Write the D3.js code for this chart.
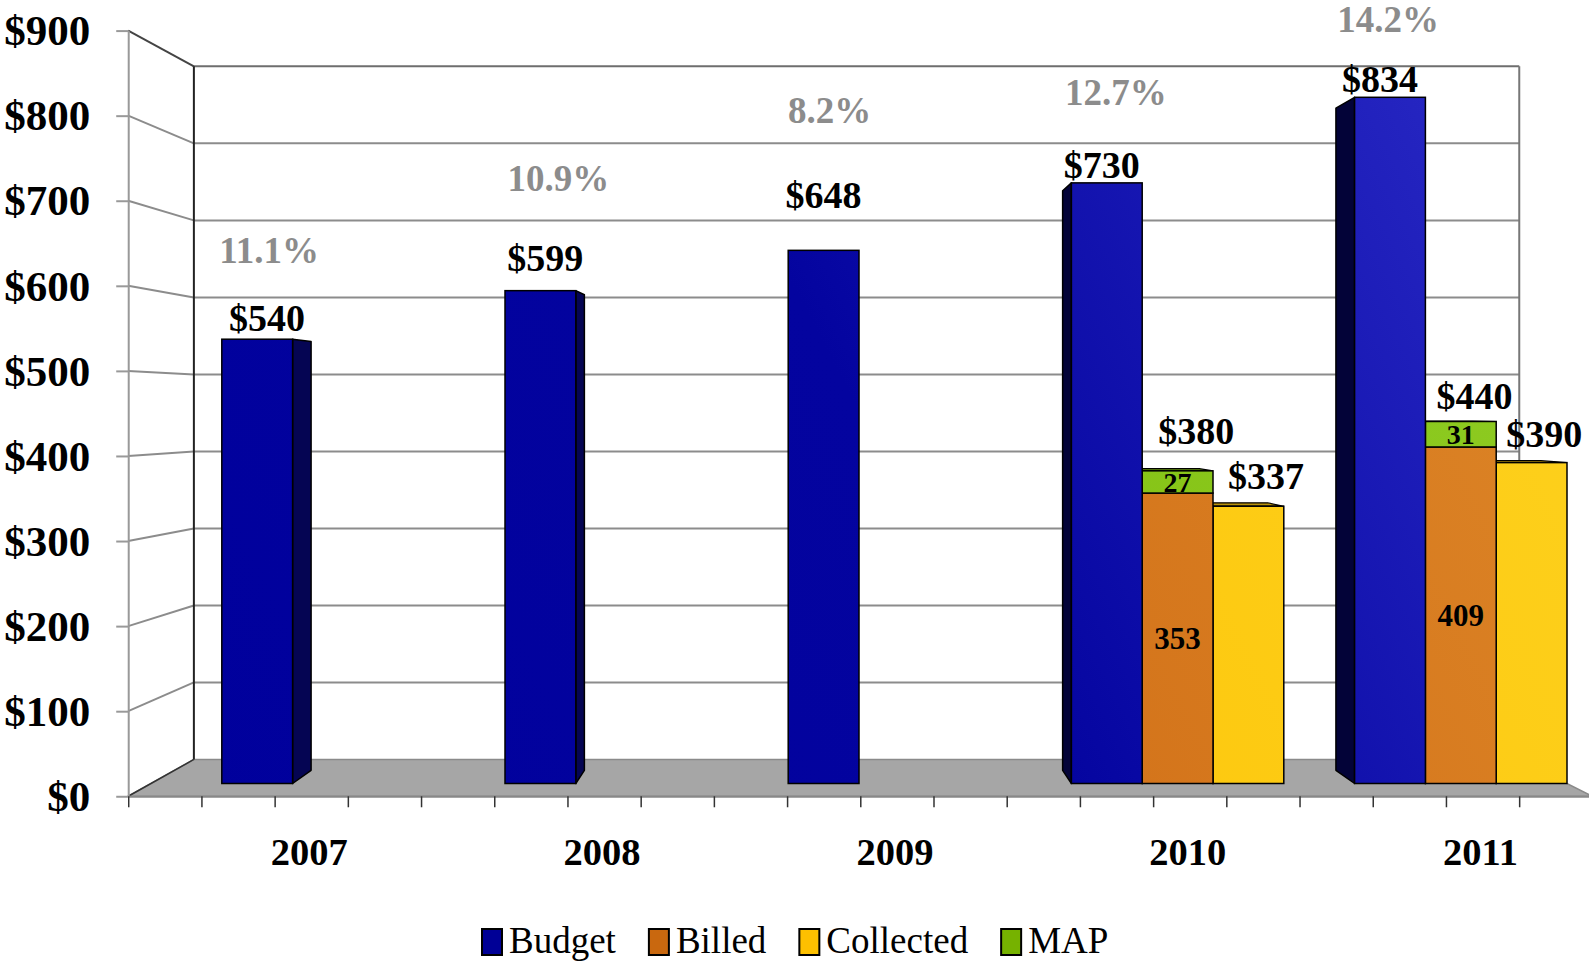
<!DOCTYPE html>
<html>
<head>
<meta charset="utf-8">
<script src="https://cdn.jsdelivr.net/npm/d3@7"></script>
<style>
  body { margin: 0; background: #fff; }
  svg { display: block; font-family: "Liberation Serif", "Times New Roman", serif; }
</style>
</head>
<body>
<svg width="1589" height="961"></svg>
<script>
// data
var years = ["2007", "2008", "2009", "2010", "2011"];
var budget = [540, 599, 648, 730, 834];
var billed = [null, null, null, 353, 409];
var mapValues = [null, null, null, 27, 31];
var collected = [null, null, null, 337, 390];
var growth = ["11.1%", "10.9%", "8.2%", "12.7%", "14.2%"];
var yTicks = [0, 100, 200, 300, 400, 500, 600, 700, 800, 900];
var legendNames = ["Budget", "Billed", "Collected", "MAP"];

var svg = d3.select("svg");

// fake 3d: everything is laid out on the bar front plane, then pushed
// toward / away from a vanishing point
var VX = 821, VY = 408;
var K_FRONT = 1.034, K_BACK = 0.936, K_BAR_BACK = 0.965, K_MID = 0.9825;
function proj(x, y, k) { return [VX + (x - VX) * k, VY + (y - VY) * k]; }

var x0 = d3.scaleBand().domain(years).range([151, 1567]);
var slot = x0.bandwidth() / 4;
var x1 = d3.scaleBand().domain(["Budget", "Billed", "Collected"]).range([slot, x0.bandwidth()]);
var y = d3.scaleLinear().domain([0, 900]).range([783.5, 43]);

var left = x0.range()[0], right = x0.range()[1];

var colors = {Budget: "#0a0aa4", Billed: "#d3731a", Collected: "#fdc80e", MAP: "#84c214"};
var legendColors = {Budget: "#000096", Billed: "#c9680f", Collected: "#fdc000", MAP: "#76b200"};

// lighting: darker lower-left, lighter upper-right
var defs = svg.append("defs");
var grads = {
  Budget: ["#00009c", "#04049f", "#2626c2"],
  Billed: ["#d06e16", "#d3731a", "#dc8426"],
  Collected: ["#fdc60a", "#fdc80e", "#fdd01c"],
  MAP: ["#80c010", "#84c214", "#8ecb22"]
};
Object.keys(grads).forEach(function(k) {
  var g = defs.append("linearGradient").attr("id", "g" + k)
    .attr("gradientUnits", "userSpaceOnUse")
    .attr("x1", left).attr("y1", y(0)).attr("x2", right).attr("y2", y(900));
  g.append("stop").attr("offset", "0%").attr("stop-color", grads[k][0]);
  g.append("stop").attr("offset", "50%").attr("stop-color", grads[k][1]);
  g.append("stop").attr("offset", "92%").attr("stop-color", grads[k][2]);
});

function poly(pts) { return "M" + pts.map(function(p) { return p[0] + "," + p[1]; }).join("L") + "Z"; }

// floor
svg.append("path")
  .attr("d", poly([proj(left, y(0), K_FRONT), proj(left, y(0), K_BACK), proj(right, y(0), K_BACK), proj(right, y(0), K_FRONT)]))
  .attr("fill", "#a6a6a6").attr("stroke", "#8a8a8a").attr("stroke-width", 1.5);

// gridlines: left wall + back wall
yTicks.forEach(function(v) {
  if (v === 0) return;
  var f = proj(left, y(v), K_FRONT), b = proj(left, y(v), K_BACK), br = proj(right, y(v), K_BACK);
  svg.append("line").attr("x1", f[0]).attr("y1", f[1]).attr("x2", b[0]).attr("y2", b[1])
    .attr("stroke", v === 900 ? "#444" : "#8c8c8c").attr("stroke-width", 2);
  svg.append("line").attr("x1", b[0]).attr("y1", b[1]).attr("x2", br[0]).attr("y2", br[1])
    .attr("stroke", v === 900 ? "#6e6e6e" : "#8c8c8c").attr("stroke-width", 2);
});

// back wall edges
var bl0 = proj(left, y(0), K_BACK), bl1 = proj(left, y(900), K_BACK);
var br0 = proj(right, y(0), K_BACK), br1 = proj(right, y(900), K_BACK);
svg.append("line").attr("x1", bl0[0]).attr("y1", bl0[1]).attr("x2", bl1[0]).attr("y2", bl1[1])
  .attr("stroke", "#222").attr("stroke-width", 2);
svg.append("line").attr("x1", br0[0]).attr("y1", br0[1]).attr("x2", br1[0]).attr("y2", br1[1])
  .attr("stroke", "#777").attr("stroke-width", 2);
var fl0 = proj(left, y(0), K_FRONT);
svg.append("line").attr("x1", fl0[0]).attr("y1", fl0[1]).attr("x2", bl0[0]).attr("y2", bl0[1])
  .attr("stroke", "#333").attr("stroke-width", 1.5);

// front y axis
var yFront = d3.scaleLinear().domain([0, 900])
  .range([proj(left, y(0), K_FRONT)[1], proj(left, y(900), K_FRONT)[1]]);
var yAxis = svg.append("g")
  .attr("transform", "translate(" + fl0[0] + ",0)")
  .call(d3.axisLeft(yFront).tickValues(yTicks).tickSize(12).tickSizeOuter(0).tickPadding(26)
    .tickFormat(function(d) { return "$" + d; }));
yAxis.select(".domain").attr("stroke", "#999").attr("stroke-width", 2);
yAxis.selectAll(".tick line").attr("stroke", "#999").attr("stroke-width", 2);
yAxis.selectAll(".tick text").attr("fill", "#000").attr("font-family", "Liberation Serif, serif")
  .attr("font-size", 43).attr("font-weight", "bold").attr("dy", "0.33em");

// front x axis (ticks only)
var xFront = d3.scaleLinear().domain([left, right])
  .range([proj(left, 0, K_FRONT)[0], proj(right, 0, K_FRONT)[0]]);
var xTickVals = d3.range(0, years.length * 4 + 1).map(function(i) { return left + i * slot; });
var xAxis = svg.append("g")
  .attr("transform", "translate(0," + fl0[1] + ")")
  .call(d3.axisBottom(xFront).tickValues(xTickVals).tickSize(11).tickSizeOuter(0).tickFormat(""));
xAxis.select(".domain").attr("stroke", "#888").attr("stroke-width", 2);
xAxis.selectAll(".tick line").attr("stroke", "#333").attr("stroke-width", 1.5);

svg.selectAll(".year")
  .data(years)
  .enter().append("text")
  .attr("class", "year")
  .attr("x", function(d) { return proj(x0(d) + slot * 2.5, 0, K_FRONT)[0] - 2; })
  .attr("y", 865)
  .attr("text-anchor", "middle")
  .attr("font-size", 38.5).attr("font-weight", "bold")
  .text(function(d) { return d; });

// boxes
var boxes = [];
years.forEach(function(yr, i) {
  boxes.push({year: yr, s: "Budget", xs: x0(yr) + x1("Budget"), v0: 0, v1: budget[i]});
  if (billed[i] != null) {
    boxes.push({year: yr, s: "Billed", xs: x0(yr) + x1("Billed"), v0: 0, v1: billed[i]});
    boxes.push({year: yr, s: "MAP", xs: x0(yr) + x1("Billed"), v0: billed[i], v1: billed[i] + mapValues[i]});
  }
  if (collected[i] != null) {
    boxes.push({year: yr, s: "Collected", xs: x0(yr) + x1("Collected"), v0: 0, v1: collected[i]});
  }
});
var bw = x1.bandwidth();
boxes.forEach(function(b, i) { b.order = i; b.dist = Math.abs(b.xs + bw / 2 - VX); });
boxes.sort(function(a, b) { return (b.dist - a.dist) || (a.order - b.order); });

var bars = svg.append("g");
boxes.forEach(function(b) {
  var xa = b.xs, xb = b.xs + bw, yt = y(b.v1), yb = y(b.v0);
  var base = d3.color(colors[b.s]);
  if (xb < VX) {
    bars.append("path").attr("d", poly([proj(xb, yt, 1), proj(xb, yt, K_BAR_BACK), proj(xb, yb, K_BAR_BACK), proj(xb, yb, 1)]))
      .attr("fill", base.darker(1.9)).attr("stroke", "#000").attr("stroke-width", 1.5).attr("stroke-linejoin", "round");
  } else if (xa > VX) {
    bars.append("path").attr("d", poly([proj(xa, yt, 1), proj(xa, yt, K_BAR_BACK), proj(xa, yb, K_BAR_BACK), proj(xa, yb, 1)]))
      .attr("fill", base.darker(3)).attr("stroke", "#000").attr("stroke-width", 1.5).attr("stroke-linejoin", "round");
  }
  if (yt > VY) {
    bars.append("path").attr("d", poly([proj(xa, yt, 1), proj(xa, yt, K_BAR_BACK), proj(xb, yt, K_BAR_BACK), proj(xb, yt, 1)]))
      .attr("fill", base.darker(0.9)).attr("stroke", "#000").attr("stroke-width", 1.2);
  }
  bars.append("rect")
    .attr("x", xa).attr("y", yt).attr("width", bw).attr("height", yb - yt)
    .attr("fill", "url(#g" + b.s + ")").attr("stroke", "#000").attr("stroke-width", 1.5);
});

// labels
var budgetLift = [9, 22, 45, 9, 11];
var pctLift = [68, 80, 85, 73, 60];
var pctShift = [2, 13, 6, 14, 8];
var billedLift = [0, 0, 0, 26, 12];
var collectedLift = [0, 0, 0, 16, 15];

function midX(xs) { return proj(xs + bw / 2, 0, K_MID)[0]; }
function midY(v) { return proj(0, y(v), K_MID)[1]; }

var labels = svg.append("g").attr("font-weight", "bold").attr("text-anchor", "middle");
years.forEach(function(yr, i) {
  var bx = midX(x0(yr) + x1("Budget"));
  var by = midY(budget[i]) - budgetLift[i];
  labels.append("text").attr("x", bx).attr("y", by).attr("font-size", 38).text("$" + budget[i]);
  labels.append("text").attr("x", bx + pctShift[i]).attr("y", by - pctLift[i]).attr("font-size", 37)
    .attr("fill", "#8c8c8c").text(growth[i]);
  if (billed[i] != null) {
    var tot = billed[i] + mapValues[i];
    labels.append("text").attr("x", midX(x0(yr) + x1("Billed")) + 25).attr("y", midY(tot) - billedLift[i])
      .attr("font-size", 38).text("$" + tot);
    var cx = x0(yr) + x1("Billed") + bw / 2;
    labels.append("text").attr("x", cx).attr("y", (y(0) + y(billed[i])) / 2).attr("dy", "0.35em")
      .attr("font-size", 31).text(billed[i]);
    labels.append("text").attr("x", cx).attr("y", (y(billed[i]) + y(tot)) / 2).attr("dy", "0.35em")
      .attr("font-size", 28).text(mapValues[i]);
  }
  if (collected[i] != null) {
    labels.append("text").attr("x", midX(x0(yr) + x1("Collected")) + 25).attr("y", midY(collected[i]) - collectedLift[i])
      .attr("font-size", 38).text("$" + collected[i]);
  }
});

// legend
var legend = svg.append("g");
var lx = 482;
legendNames.forEach(function(name) {
  legend.append("rect").attr("x", lx).attr("y", 929).attr("width", 20).attr("height", 26)
    .attr("fill", legendColors[name]).attr("stroke", "#000").attr("stroke-width", 2);
  var t = legend.append("text").attr("x", lx + 27).attr("y", 953).attr("font-size", 37).text(name);
  lx += 27 + t.node().getComputedTextLength() + 33;
});
</script>
</body>
</html>
